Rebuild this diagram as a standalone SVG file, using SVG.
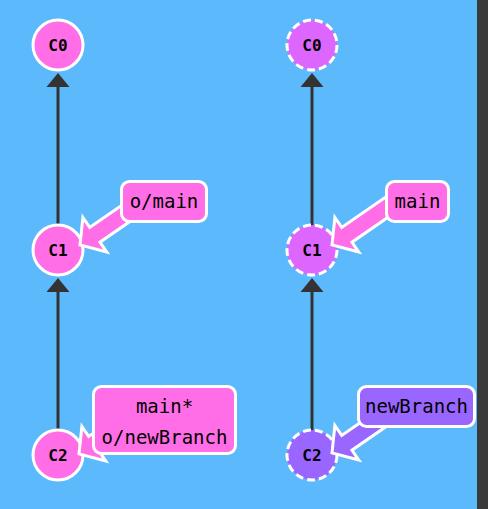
<svg xmlns="http://www.w3.org/2000/svg" width="488" height="509" viewBox="0 0 488 509">
  <style>
    .edge { stroke: #333333; stroke-width: 3; fill: none; }
    .head { fill: #333333; }
    .commit { stroke: #ffffff; stroke-width: 3; }
    .dashed { stroke-dasharray: 8 4; }
    .ctext { font-family: "DejaVu Sans Mono", "Liberation Mono", monospace; font-size: 16px; font-weight: bold; fill: #000000; text-anchor: middle; }
    .box { stroke: #ffffff; stroke-width: 3; }
    .btext { font-family: "DejaVu Sans Mono", "Liberation Mono", monospace; font-size: 19px; fill: #000000; text-anchor: middle; }
    .ptr { stroke: #ffffff; stroke-width: 3; stroke-linejoin: miter; }
    .pink { fill: #ff6ee6; }
    .faded { fill: #dd66ff; }
    .purple { fill: #9966ff; }
  </style>
  <defs>
    <polygon id="pointer" points="0,0 18,-21 18,-9 75,-9 75,9 18,9 18,21"/>
  </defs>
  <rect x="0" y="0" width="488" height="509" fill="#5cb9fc"/>
  <rect x="477" y="0" width="11" height="509" fill="#3a3a3a"/>

  <g id="connectors">
    <line class="edge" x1="58" y1="226" x2="58" y2="86"/>
    <polygon class="head" points="58,73 46.5,87 69.5,87"/>
    <line class="edge" x1="58" y1="431" x2="58" y2="291"/>
    <polygon class="head" points="58,278 46.5,292 69.5,292"/>
    <line class="edge" x1="312" y1="226" x2="312" y2="86"/>
    <polygon class="head" points="312,73 300.5,87 323.5,87"/>
    <line class="edge" x1="312" y1="431" x2="312" y2="291"/>
    <polygon class="head" points="312,278 300.5,292 323.5,292"/>
  </g>

  <g id="left-C0">
    <circle class="commit pink" cx="58" cy="45" r="25"/>
    <text class="ctext" x="58" y="51">C0</text>
  </g>
  <g id="left-C1">
    <circle class="commit pink" cx="58" cy="250" r="25"/>
    <text class="ctext" x="58" y="256">C1</text>
  </g>
  <g id="left-C2">
    <circle class="commit pink" cx="58" cy="455" r="25"/>
    <text class="ctext" x="58" y="461">C2</text>
  </g>
  <g id="right-C0">
    <circle class="commit dashed faded" cx="312" cy="45" r="25"/>
    <text class="ctext" x="312" y="51">C0</text>
  </g>
  <g id="right-C1">
    <circle class="commit dashed faded" cx="312" cy="250" r="25"/>
    <text class="ctext" x="312" y="256">C1</text>
  </g>
  <g id="right-C2">
    <circle class="commit dashed purple" cx="312" cy="455" r="25"/>
    <text class="ctext" x="312" y="461">C2</text>
  </g>

  <g id="label-o-main">
    <use href="#pointer" class="ptr pink" transform="translate(80,245) rotate(-34.6)"/>
    <rect class="box pink" x="121.5" y="181.5" width="85" height="40" rx="8"/>
    <text class="btext" x="164" y="207.5">o/main</text>
  </g>
  <g id="label-main">
    <use href="#pointer" class="ptr pink" transform="translate(332,245) rotate(-34.6)"/>
    <rect class="box pink" x="386.5" y="181.5" width="62" height="40" rx="8"/>
    <text class="btext" x="417.5" y="207.5">main</text>
  </g>
  <g id="label-main-star-o-newBranch">
    <use href="#pointer" class="ptr pink" transform="translate(79,454) rotate(-34.6)"/>
    <rect class="box pink" x="93.5" y="386.5" width="142" height="67" rx="8"/>
    <text class="btext" x="164.5" y="412.5">main*</text>
    <text class="btext" x="164.5" y="443.5">o/newBranch</text>
  </g>
  <g id="label-newBranch">
    <use href="#pointer" class="ptr purple" transform="translate(332,453) rotate(-34.6)"/>
    <rect class="box purple" x="358.5" y="386.5" width="116" height="40" rx="8"/>
    <text class="btext" x="416.5" y="412.5">newBranch</text>
  </g>
</svg>
